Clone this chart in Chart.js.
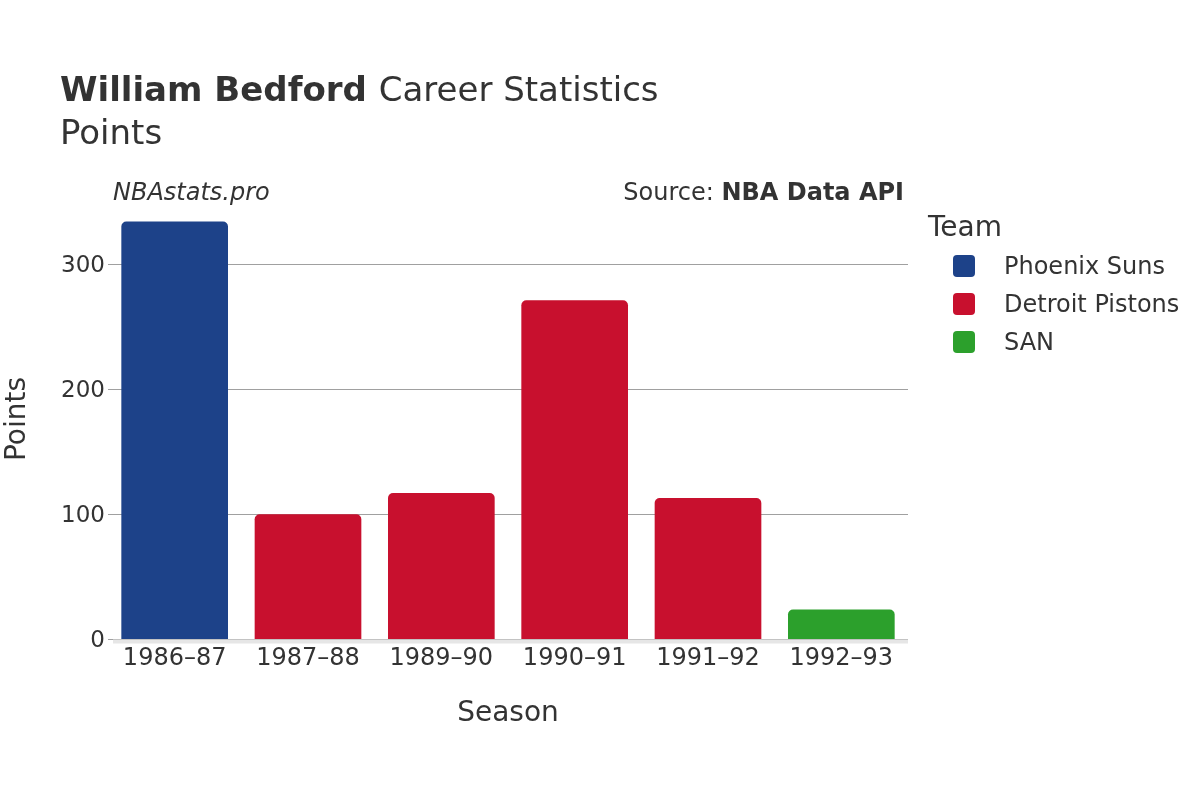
<!DOCTYPE html>
<html>
<head>
<meta charset="utf-8">
<script src="https://cdn.jsdelivr.net/npm/chart.js@4/dist/chart.umd.min.js"></script>
<style>
  html, body { margin: 0; padding: 0; background: #fff; }
  #chart { display: block; }
</style>
</head>
<body>
<canvas id="chart" width="1200" height="800"></canvas>
<script>
// data
const seasons = ['1986–87', '1987–88', '1989–90', '1990–91', '1991–92', '1992–93'];
const seasonTeam = ['Phoenix Suns', 'Detroit Pistons', 'Detroit Pistons', 'Detroit Pistons', 'Detroit Pistons', 'SAN'];
const points = [334, 100, 117, 271, 113, 24];
const teams = ['Phoenix Suns', 'Detroit Pistons', 'SAN'];
const teamColors = ['#1d4289', '#c8102e', '#2ca02c'];
const yTicks = [0, 100, 200, 300];

const FONT = '"DejaVu Sans", sans-serif';
const TEXT = '#333333';

const datasets = teams.map((team, i) => ({
  label: team,
  data: points.map((v, j) => (seasonTeam[j] === team ? v : null)),
  backgroundColor: teamColors[i],
  borderRadius: { topLeft: 5, topRight: 5 },
  borderSkipped: 'bottom',
  categoryPercentage: 0.8,
  barPercentage: 1,
  grouped: false,
}));

// titles, notes, baseline and legend
const decorations = {
  id: 'decorations',
  afterDatasetsDraw(chart) {
    const ctx = chart.ctx;
    const area = chart.chartArea;
    ctx.save();

    // zero baseline
    ctx.fillStyle = '#e6e6e6';
    ctx.fillRect(area.left + 5, area.bottom, area.right - area.left - 5, 4);

    ctx.fillStyle = TEXT;
    ctx.textBaseline = 'alphabetic';
    ctx.textAlign = 'left';
    ctx.font = 'bold 34px ' + FONT;
    ctx.fillText('William Bedford', 60, 101);
    const w = ctx.measureText('William Bedford ').width;
    ctx.font = '34px ' + FONT;
    ctx.fillText('Career Statistics', 60 + w, 101);
    ctx.fillText('Points', 60, 144);

    ctx.font = 'italic 24px ' + FONT;
    ctx.fillText('NBAstats.pro', 113, 200);

    ctx.textAlign = 'right';
    ctx.font = 'bold 24px ' + FONT;
    ctx.fillText('NBA Data API', 904, 200);
    const bw = ctx.measureText('NBA Data API').width;
    ctx.font = '24px ' + FONT;
    ctx.fillText('Source: ', 904 - bw, 200);

    // axis titles
    ctx.textAlign = 'center';
    ctx.textBaseline = 'middle';
    ctx.font = '28px ' + FONT;
    ctx.fillText('Season', (area.left + area.right) / 2, 714);
    ctx.save();
    ctx.translate(18, 419);
    ctx.rotate(-Math.PI / 2);
    ctx.fillText('Points', 0, 0);
    ctx.restore();

    // legend
    ctx.textAlign = 'left';
    ctx.font = '28px ' + FONT;
    ctx.fillText('Team', 928, 229);
    ctx.font = '24px ' + FONT;
    chart.data.datasets.forEach((ds, i) => {
      const cy = 266 + i * 38;
      ctx.fillStyle = ds.backgroundColor;
      ctx.beginPath();
      ctx.roundRect(953, cy - 11, 22, 22, 4);
      ctx.fill();
      ctx.fillStyle = TEXT;
      ctx.fillText(ds.label, 1004, cy + 2);
    });
    ctx.restore();
  },
};

new Chart(document.getElementById('chart'), {
  type: 'bar',
  data: { labels: seasons, datasets },
  options: {
    responsive: false,
    animation: false,
    skipNull: true,
    layout: { padding: { left: 0, right: 292, top: 201.5, bottom: 0 } },
    plugins: {
      legend: { display: false },
      tooltip: { enabled: false },
    },
    scales: {
      x: {
        grid: { display: false, drawTicks: false },
        border: { display: false },
        ticks: { color: TEXT, font: { family: FONT, size: 24 }, padding: 5 },
        afterFit(scale) { scale.height = 160.5; },
      },
      y: {
        min: 0,
        max: 350,
        afterBuildTicks(scale) { scale.ticks = yTicks.map(v => ({ value: v })); },
        grid: { color: '#a0a0a0', drawTicks: false },
        border: { display: false },
        ticks: { color: TEXT, font: { family: FONT, size: 23 }, padding: 3, labelOffset: 2 },
        afterFit(scale) { scale.width = 108; },
      },
    },
  },
  plugins: [decorations],
});
</script>
</body>
</html>
